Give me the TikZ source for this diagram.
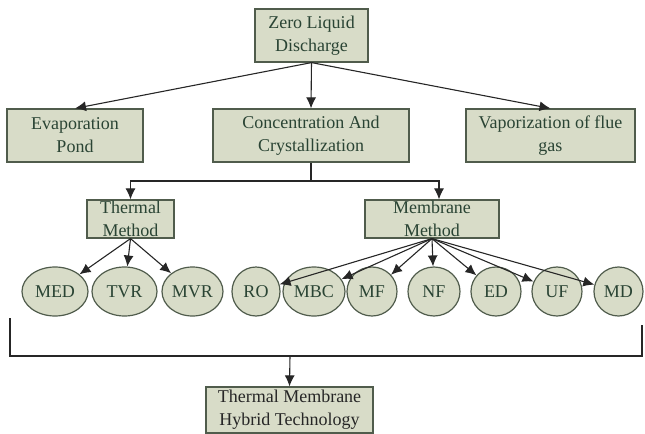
\documentclass[tikz,border=0pt]{standalone}
\usepackage{fontspec}
\setmainfont{Liberation Serif}
\usetikzlibrary{arrows.meta,shapes.geometric}
\definecolor{boxfill}{RGB}{216,220,200}
\definecolor{boxline}{RGB}{80,92,76}
\definecolor{boxtext}{RGB}{42,68,52}
\tikzset{
  blk/.style={draw=boxline, fill=boxfill, line width=0.6pt, text=boxtext, align=center,
    font=\fontsize{9}{11.5}\selectfont, inner sep=0pt},
  oval/.style={ellipse, draw=boxline, fill=boxfill, line width=0.6pt, text=boxtext,
    font=\fontsize{9}{11}\selectfont, inner sep=0pt, minimum height=24.5pt},
  arr/.style={-{Latex[length=5.5pt,width=5pt]}, line width=0.55pt, draw=black!85},
  ln/.style={line width=0.55pt, draw=black!85}
}
\begin{document}
\begin{tikzpicture}[x=0.5pt,y=-0.5pt]
\useasboundingbox (0,0) rectangle (645,434);
\node[blk, minimum width=56.5pt, minimum height=26.5pt] (zld) at (311.5,35.5) {Zero Liquid\\Discharge};
\node[blk, minimum width=68pt, minimum height=26.5pt] (evap) at (75,135.5) {Evaporation\\Pond};
\node[blk, minimum width=98pt, minimum height=26.5pt] (conc) at (311,135.5) {Concentration And\\Crystallization};
\node[blk, minimum width=84.5pt, minimum height=26.5pt] (vap) at (550.5,135.5) {Vaporization of flue\\gas};
\node[blk, minimum width=43.5pt, minimum height=19pt] (thermal) at (130.5,219) {Thermal\\Method};
\node[blk, minimum width=67pt, minimum height=19pt] (membrane) at (432,219) {Membrane\\Method};
\node[oval, minimum width=33pt] (med) at (55,291.5) {MED};
\node[oval, minimum width=32.5pt] (tvr) at (124.5,291.5) {TVR};
\node[oval, minimum width=30.5pt] (mvr) at (192.5,291.5) {MVR};
\node[oval, minimum width=24pt] (ro) at (256,291.5) {RO};
\node[oval, minimum width=31pt] (mbc) at (314,291.5) {MBC};
\node[oval, minimum width=25pt] (mf) at (372,291.5) {MF};
\node[oval, minimum width=26pt] (nf) at (434,291.5) {NF};
\node[oval, minimum width=25pt] (ed) at (496,291.5) {ED};
\node[oval, minimum width=25pt] (uf) at (557,291.5) {UF};
\node[oval, minimum width=24.5pt] (md) at (618.5,291.5) {MD};
\node[blk, text=black!85, minimum width=83.5pt, minimum height=23pt] (hybrid) at (289.5,410) {Thermal Membrane\\Hybrid Technology};
\coordinate (split) at (311,181);
\coordinate (lefttop) at (10,318);
\coordinate (leftbot) at (10,356);
\coordinate (righttop) at (642,325);
\coordinate (rightbot) at (642,356);
\coordinate (join) at (290,356);
\draw[arr] (zld.south) -- (evap.north);
\draw[arr] (zld.south) -- (conc.north);
\draw[arr] (zld.south) -- (vap.north);
\draw[ln] (conc.south) -- (split);
\draw[arr] (split) -| (thermal.north);
\draw[arr] (split) -| ([xshift=3.5pt]membrane.north);
\foreach \t in {med,tvr,mvr}
  \draw[arr] (thermal.south) -- (\t);
\foreach \t in {ro,mbc,mf,nf,ed,uf,md}
  \draw[arr] (membrane.south) -- (\t);
\draw[ln] (lefttop) -- (leftbot) -- (rightbot) -- (righttop);
\draw[arr] (join) -- (hybrid.north);
\end{tikzpicture}
\end{document}
